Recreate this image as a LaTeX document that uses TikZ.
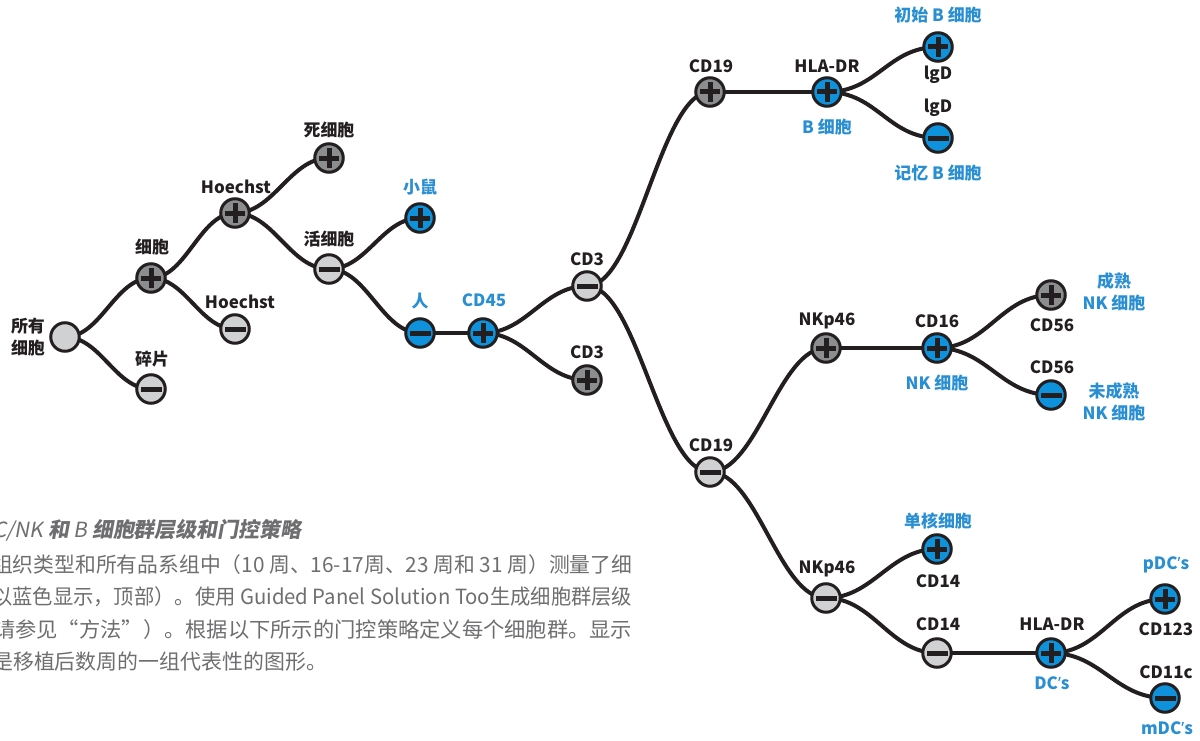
\documentclass[tikz,border=0pt]{standalone}
\usepackage{fontspec}
\usepackage{graphicx}
\usetikzlibrary{backgrounds}
\newfontfamily\cjk{Noto Sans CJK SC}
\newfontfamily\cjksl{Noto Sans CJK SC}[FakeSlant=0.18]
\newfontfamily\latin{Noto Sans}
\definecolor{ink}{HTML}{231F20}
\definecolor{dkgray}{HTML}{8C8D8F}
\definecolor{ltgray}{HTML}{D0D1D3}
\definecolor{nblue}{HTML}{0D92DB}
\definecolor{lblue}{HTML}{2A8FD2}
\definecolor{capgray}{HTML}{6E6E70}
\newcommand\sconn[3]{\draw[conn] (#1.center) .. controls +(#3,0) and +(-#3,0) .. (#2.center);}
\newcommand\apos{{\latin\bfseries ’}}
\newcommand\capline[2]{\resizebox{#1}{\height}{#2}}
\begin{document}
\begin{tikzpicture}[x=1bp,y=-1bp,
  gnode/.style={circle,draw=ink,line width=3bp,minimum size=28.5bp,inner sep=0pt},
  dk/.style={gnode,fill=dkgray},
  lt/.style={gnode,fill=ltgray},
  bl/.style={gnode,fill=nblue},
  plussign/.style={path picture={
    \fill[ink] ([xshift=-10bp,yshift=-2.5bp]path picture bounding box.center) rectangle ([xshift=10bp,yshift=2.5bp]path picture bounding box.center);
    \fill[ink] ([xshift=-2.5bp,yshift=-10bp]path picture bounding box.center) rectangle ([xshift=2.5bp,yshift=10bp]path picture bounding box.center);}},
  minussign/.style={path picture={
    \fill[ink] ([xshift=-10.5bp,yshift=-2.5bp]path picture bounding box.center) rectangle ([xshift=10.5bp,yshift=2.5bp]path picture bounding box.center);}},
  lab/.style={font=\cjk\bfseries\fontsize{17}{22}\selectfont,text=ink,inner sep=0pt,align=center},
  blab/.style={lab,text=lblue},
  conn/.style={draw=ink,line width=4bp},
  captext/.style={font=\cjk\fontsize{21}{26}\selectfont,text=capgray,inner sep=0pt,anchor=base west},
  captitle/.style={font=\cjksl\fontsize{21}{26}\selectfont,text=capgray,inner sep=0pt,anchor=base west}
]
\useasboundingbox (0,0) rectangle (1200,741);
\clip (0,0) rectangle (1200,741);

% nodes
\node[lt] (root) at (65,337) {};
\node[dk,plussign] (cells) at (151,278) {};
\node[lt,minussign] (debris) at (151,389) {};
\node[dk,plussign] (hoep) at (235,213) {};
\node[lt,minussign] (hoem) at (235,329) {};
\node[dk,plussign] (dead) at (329,158) {};
\node[lt,minussign] (live) at (329,269) {};
\node[bl,plussign] (mouse) at (420,218) {};
\node[bl,minussign] (human) at (420,333) {};
\node[bl,plussign] (cdfs) at (483,333) {};
\node[lt,minussign] (cdtm) at (587,286) {};
\node[dk,plussign] (cdtp) at (587,380) {};
\node[dk,plussign] (cdnp) at (710,92) {};
\node[bl,plussign] (hlab) at (827,92) {};
\node[bl,plussign] (igdp) at (938,47) {};
\node[bl,minussign] (igdm) at (938,138) {};
\node[lt,minussign] (cdnm) at (710,472) {};
\node[dk,plussign] (nkpp) at (826,348) {};
\node[bl,plussign] (cdss) at (937,348) {};
\node[dk,plussign] (cdfp) at (1051,295) {};
\node[bl,minussign] (cdfm) at (1051,395) {};
\node[lt,minussign] (nkpm) at (826,598) {};
\node[bl,plussign] (cdop) at (937,549) {};
\node[lt,minussign] (cdom) at (937,653) {};
\node[bl,plussign] (hladc) at (1051,653) {};
\node[bl,plussign] (pdc) at (1165,599) {};
\node[bl,minussign] (mdc) at (1165,698) {};

% connectors
\begin{scope}[on background layer]
\sconn{root}{cells}{36}
\sconn{root}{debris}{36}
\sconn{cells}{hoep}{35}
\sconn{cells}{hoem}{35}
\sconn{hoep}{dead}{39}
\sconn{hoep}{live}{39}
\sconn{live}{mouse}{38}
\sconn{live}{human}{38}
\draw[conn] (human.center) -- (cdfs.center);
\sconn{cdfs}{cdtm}{44}
\sconn{cdfs}{cdtp}{44}
\sconn{cdtm}{cdnp}{50}
\sconn{cdtm}{cdnm}{50}
\draw[conn] (cdnp.center) -- (hlab.center);
\sconn{hlab}{igdp}{50}
\sconn{hlab}{igdm}{50}
\sconn{cdnm}{nkpp}{47}
\sconn{cdnm}{nkpm}{47}
\draw[conn] (nkpp.center) -- (cdss.center);
\sconn{cdss}{cdfp}{50}
\sconn{cdss}{cdfm}{50}
\sconn{nkpm}{cdop}{47}
\sconn{nkpm}{cdom}{47}
\draw[conn] (cdom.center) -- (hladc.center);
\sconn{hladc}{pdc}{50}
\sconn{hladc}{mdc}{50}
\end{scope}

% labels
\node[lab] (l-root) at (28,337) {所有\\细胞};
\node[lab] (l-cells) at (152,247) {细胞};
\node[lab] (l-debris) at (152,359) {碎片};
\node[lab] (l-hoep) at (236,187) {Hoechst};
\node[lab] (l-hoem) at (240,302) {Hoechst};
\node[lab] (l-dead) at (329,130) {死细胞};
\node[lab] (l-live) at (329,239) {活细胞};
\node[blab] (l-mouse) at (420,187) {小鼠};
\node[blab] (l-human) at (420,301) {人};
\node[blab] (l-cdfs) at (484,300) {CD45};
\node[lab] (l-cdtm) at (587,259) {CD3};
\node[lab] (l-cdtp) at (587,352) {CD3};
\node[lab] (l-cdnp) at (711,66) {CD19};
\node[lab] (l-hlab) at (827,66) {HLA-DR};
\node[blab] (l-bcell) at (827,127) {B 细胞};
\node[blab] (l-naive) at (938,15) {初始 B 细胞};
\node[lab] (l-igdp) at (938,75) {lgD};
\node[lab] (l-igdm) at (938,108) {lgD};
\node[blab] (l-mem) at (938,173) {记忆 B 细胞};
\node[lab] (l-cdnm) at (711,445) {CD19};
\node[lab] (l-nkpp) at (827,321) {NKp46};
\node[lab] (l-cdss) at (937,321) {CD16};
\node[blab] (l-nk) at (937,383) {NK 细胞};
\node[lab] (l-cdfp) at (1052,325) {CD56};
\node[lab] (l-cdfm) at (1052,367) {CD56};
\node[blab] (l-mature) at (1114,292) {成熟\\NK 细胞};
\node[blab] (l-immature) at (1114,402) {未成熟\\NK 细胞};
\node[lab] (l-nkpm) at (827,569) {NKp46};
\node[blab] (l-mono) at (938,521) {单核细胞};
\node[lab] (l-cdop) at (938,581) {CD14};
\node[lab] (l-cdom) at (938,624) {CD14};
\node[lab] (l-hladc) at (1052,624) {HLA-DR};
\node[blab] (l-dc) at (1052,683) {DC\apos s};
\node[blab] (l-pdc) at (1166,565) {pDC\apos s};
\node[lab] (l-cdot) at (1166,629) {CD123};
\node[lab] (l-cdoc) at (1166,672) {CD11c};
\node[blab] (l-mdc) at (1167,728) {mDC\apos s};

% caption (cut off at the left edge)
\node[captitle] (cap0) at (-7,537) {C/NK {\bfseries 和} B {\bfseries 细胞群层级和门控策略}};
\node[captext] (cap1) at (-8,572) {\capline{640bp}{组织类型和所有品系组中（10 周、16-17周、23 周和 31 周）测量了细}};
\node[captext] (cap2) at (-8,604) {\capline{640bp}{以蓝色显示，顶部）。使用 Guided Panel Solution Too生成细胞群层级}};
\node[captext] (cap3) at (-6,637) {\capline{638bp}{请参见“方法”）。根据以下所示的门控策略定义每个细胞群。显示}};
\node[captext] (cap4) at (-8,669) {是移植后数周的一组代表性的图形。};
\end{tikzpicture}
\end{document}
